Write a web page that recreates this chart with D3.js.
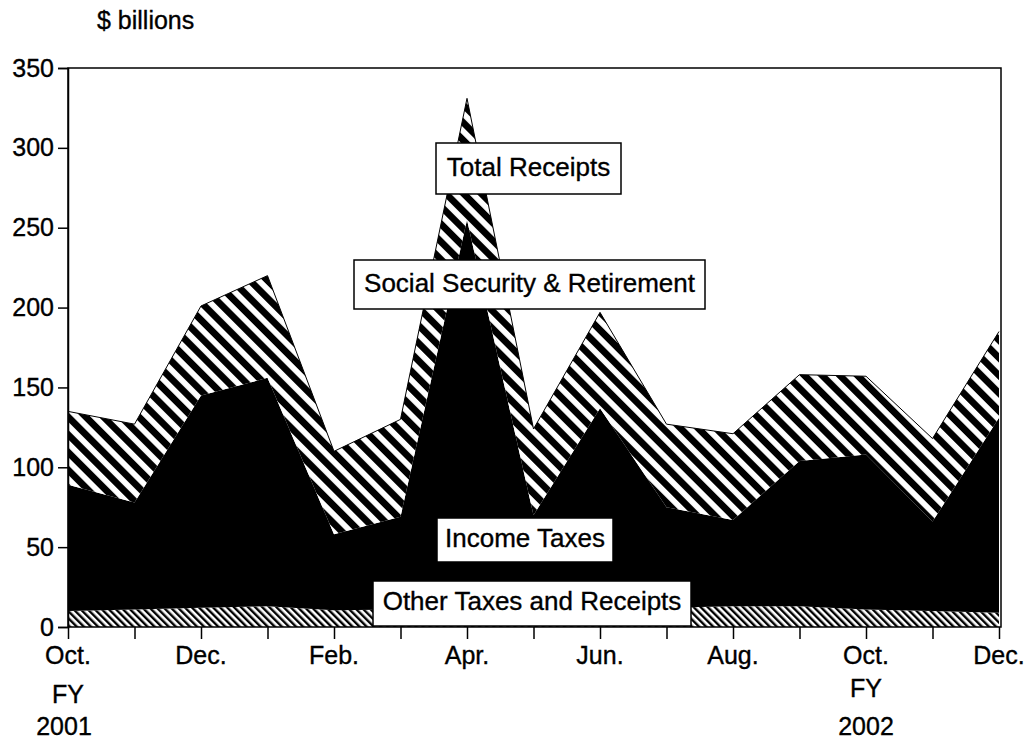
<!DOCTYPE html>
<html>
<head>
<meta charset="utf-8">
<script src="https://cdn.jsdelivr.net/npm/d3@7"></script>
<style>
  html, body { margin: 0; padding: 0; background: #fff; }
  svg { display: block; }
  text { font-family: "Liberation Sans", Arial, Helvetica, sans-serif; fill: #000; stroke: #000; stroke-width: 0.35px; }
</style>
</head>
<body>
<svg id="chart" width="1028" height="742"></svg>
<script>
// ---- data ----
const months = ["Oct.", "Nov.", "Dec.", "Jan.", "Feb.", "Mar.", "Apr.", "May", "Jun.", "Jul.", "Aug.", "Sep.", "Oct.", "Nov.", "Dec."];
const otherTaxes = [10, 11, 12, 13, 10.5, 11, 12, 10, 12, 12, 13, 13, 11, 10, 9];
const incomeTaxes = [79, 67, 133, 143, 47.5, 58, 243, 60, 125, 63, 54, 91, 97, 56, 122];
const socialSecurity = [46, 49, 56, 64, 52, 61, 76, 54, 60, 52, 54, 54, 49, 52, 54];
const yTicks = [0, 50, 100, 150, 200, 250, 300, 350];
const labeledMonthIdx = [0, 2, 4, 6, 8, 10, 12, 14];
const seriesKeys = ["other", "income", "social"];

const rows = months.map((m, i) => ({
  i, other: otherTaxes[i], income: incomeTaxes[i], social: socialSecurity[i]
}));

const svg = d3.select("#chart");
const plotLeft = 68, plotRight = 999, plotTop = 68, plotBottom = 627;

const x = d3.scaleLinear().domain([0, months.length - 1]).range([plotLeft, plotRight]);
const y = d3.scaleLinear().domain([0, 350]).range([plotBottom, plotTop]);

// ---- patterns ----
const defs = svg.append("defs");
const wide = defs.append("pattern").attr("id", "wideStripe")
  .attr("patternUnits", "userSpaceOnUse").attr("width", 12.5).attr("height", 12.5)
  .attr("patternTransform", "rotate(-45)");
wide.append("rect").attr("width", 12.5).attr("height", 12.5).attr("fill", "#fff");
wide.append("rect").attr("width", 6.8).attr("height", 12.5).attr("fill", "#000");

const fine = defs.append("pattern").attr("id", "fineStripe")
  .attr("patternUnits", "userSpaceOnUse").attr("width", 5).attr("height", 5)
  .attr("patternTransform", "rotate(-45)");
fine.append("rect").attr("width", 5).attr("height", 5).attr("fill", "#fff");
fine.append("rect").attr("width", 2.4).attr("height", 5).attr("fill", "#000");

const fills = { other: "url(#fineStripe)", income: "#000", social: "url(#wideStripe)" };

// ---- stacked areas ----
const stack = d3.stack().keys(seriesKeys);
const layers = stack(rows);
const area = d3.area()
  .x(d => x(d.data.i))
  .y0(d => y(d[0]))
  .y1(d => y(d[1]));

svg.append("g").selectAll("path").data(layers).join("path")
  .attr("d", area)
  .attr("fill", d => fills[d.key])
  .attr("stroke", "none");

// outline of total
const topLine = d3.line().x(d => x(d.data.i)).y(d => y(d[1]));
svg.append("path").datum(layers[2]).attr("d", topLine)
  .attr("fill", "none").attr("stroke", "#000").attr("stroke-width", 1);

// ---- frame ----
svg.append("rect").attr("x", plotLeft).attr("y", plotTop)
  .attr("width", plotRight + 2 - plotLeft).attr("height", plotBottom - plotTop)
  .attr("fill", "none").attr("stroke", "#000").attr("stroke-width", 1.5);

// ---- y axis ----
const yAxis = d3.axisLeft(y).tickValues(yTicks).tickSize(10).tickPadding(4).tickFormat(d3.format("d"));
const gy = svg.append("g").attr("transform", `translate(${plotLeft},0)`).call(yAxis);
gy.select(".domain").attr("stroke-width", 1.5);
gy.selectAll(".tick line").attr("stroke-width", 1.5);
gy.selectAll("text").attr("font-size", 25).attr("font-family", '"Liberation Sans", Arial, sans-serif').attr("fill", "#000");

// ---- x axis ----
const xAxis = d3.axisBottom(x).tickValues(d3.range(months.length)).tickSize(12).tickFormat("");
const gx = svg.append("g").attr("transform", `translate(0,${plotBottom})`).call(xAxis);
gx.select(".domain").remove();
gx.selectAll(".tick line").attr("stroke-width", 1.5);

svg.append("g").selectAll("text").data(labeledMonthIdx).join("text")
  .attr("x", i => x(i)).attr("y", 664)
  .attr("text-anchor", "middle").attr("font-size", 25)
  .text(i => months[i]);

// FY labels
svg.append("text").attr("x", x(0)).attr("y", 703).attr("text-anchor", "middle").attr("font-size", 25).text("FY");
svg.append("text").attr("x", x(0) - 4).attr("y", 735).attr("text-anchor", "middle").attr("font-size", 25).text("2001");
svg.append("text").attr("x", x(12)).attr("y", 697).attr("text-anchor", "middle").attr("font-size", 25).text("FY");
svg.append("text").attr("x", x(12)).attr("y", 735).attr("text-anchor", "middle").attr("font-size", 25).text("2002");

// unit label
svg.append("text").attr("x", 97).attr("y", 29).attr("font-size", 25).text("$ billions");

// ---- series labels ----
const boxes = [
  { text: "Total Receipts", x0: 436, x1: 621, y0: 143, y1: 194, base: 176 },
  { text: "Social Security & Retirement", x0: 354, x1: 705, y0: 260, y1: 309, base: 292 },
  { text: "Income Taxes", x0: 437, x1: 613, y0: 518, y1: 562, base: 547 },
  { text: "Other Taxes and Receipts", x0: 373, x1: 691, y0: 581, y1: 626, base: 610 }
];
const lg = svg.append("g").selectAll("g").data(boxes).join("g");
lg.append("rect")
  .attr("x", d => d.x0).attr("y", d => d.y0)
  .attr("width", d => d.x1 - d.x0).attr("height", d => d.y1 - d.y0)
  .attr("fill", "#fff").attr("stroke", "#000").attr("stroke-width", 1.5);
lg.append("text")
  .attr("x", d => (d.x0 + d.x1) / 2).attr("y", d => d.base)
  .attr("text-anchor", "middle").attr("font-size", 26)
  .text(d => d.text);
</script>
</body>
</html>
